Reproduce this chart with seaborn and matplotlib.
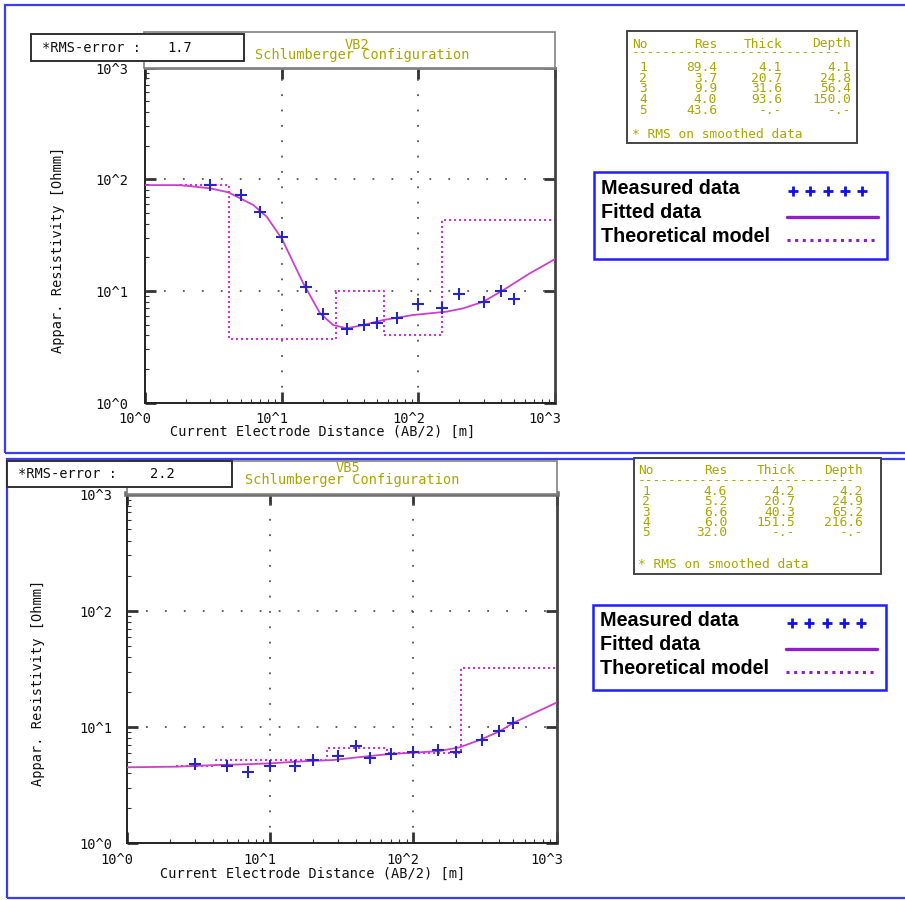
import matplotlib
matplotlib.use("Agg")
import matplotlib.pyplot as plt
import seaborn as sns
from matplotlib.patches import Rectangle
from matplotlib.lines import Line2D

# ---------------------------------------------------------------- data
decade_values = [1, 10, 100, 1000]
decade_labels = ["10^0", "10^1", "10^2", "10^3"]

# VB2 sounding
vb2_name = "VB2"
vb2_rms = 1.7
vb2_ab2 = [3, 5, 7, 10, 15, 20, 30, 40, 50, 70, 100, 150, 200, 300, 400, 500]
vb2_rho = [88.9, 72.8, 51.0, 30.3, 10.9, 6.27, 4.57, 4.99, 5.17, 5.77,
           7.65, 7.00, 9.40, 7.92, 10.1, 8.43]
vb2_fit_ab2 = [1, 1.8, 3.0, 4.07, 6.2, 7.77, 10.0, 14.4, 19.1, 23.8, 29.9,
               39.5, 55.4, 91.8, 161, 213, 299, 419, 655, 1000]
vb2_fit_rho = [88.7, 88.7, 83.0, 76.5, 58.9, 46.3, 29.6, 11.7, 6.31, 4.96,
               4.63, 4.96, 5.50, 6.10, 6.53, 7.00, 8.02, 10.2, 14.4, 19.3]
vb2_res = [89.4, 3.7, 9.9, 4.0, 43.6]
vb2_thick = [4.1, 20.7, 31.6, 93.6]
vb2_depth = [4.1, 24.8, 56.4, 150.0]
vb2_model_start = 1.8

# VB5 sounding
vb5_name = "VB5"
vb5_rms = 2.2
vb5_ab2 = [3, 5, 7, 10, 15, 20, 30, 40, 50, 70, 100, 150, 200, 300, 400, 500]
vb5_rho = [4.78, 4.65, 4.13, 4.65, 4.65, 5.20, 5.67, 6.87, 5.41, 5.86,
           6.10, 6.34, 6.13, 7.73, 9.30, 10.9]
vb5_fit_ab2 = [1, 2.24, 4.25, 6.88, 10.0, 17.1, 27.6, 44.7, 68.5, 99.7,
               153, 211, 291, 401, 496, 700, 1000]
vb5_fit_rho = [4.50, 4.56, 4.71, 4.78, 4.87, 5.07, 5.20, 5.55, 5.86, 6.01,
               6.22, 6.69, 7.73, 9.18, 10.8, 13.2, 16.2]
vb5_res = [4.6, 5.2, 6.6, 6.0, 32.0]
vb5_thick = [4.2, 20.7, 40.3, 151.5]
vb5_depth = [4.2, 24.9, 65.2, 216.6]
vb5_model_start = 2.2

x_max = 1000

# ---------------------------------------------------------------- style
W, H = 905, 900
MONO = "DejaVu Sans Mono"
BOLD = "Liberation Sans"
OLIVE = "#aaa600"
MEAS_C = "#2626c8"
FIT_C = "#cc40cc"
MODEL_C = "#cc33dd"
LEG_LINE_C = "#8e1ec8"
FRAME_C = "#3c3cf5"
FS = 9.8

sns.set_theme(style="white")
plt.rcParams["font.family"] = [MONO]

fig = plt.figure(figsize=(W / 100, H / 100), dpi=100)
fig.patch.set_facecolor("white")


def fx(x):
    return x / W


def fy(y):
    return 1 - y / H


def frect(x0, y0, x1, y1, **kw):
    r = Rectangle((fx(x0), fy(y1)), (x1 - x0) / W, (y1 - y0) / H,
                  transform=fig.transFigure, **kw)
    fig.add_artist(r)
    return r


def ftext(x, y, s, **kw):
    kw.setdefault("va", "center")
    kw.setdefault("fontsize", FS)
    kw.setdefault("family", MONO)
    return fig.text(fx(x), fy(y), s, **kw)


def draw_panel(name, rms, ab2, rho, fit_ab2, fit_rho, res, thick, depth,
               model_start, L):
    # outer blue frame
    frect(*L["frame"], fill=False, edgecolor=FRAME_C, lw=1.6, zorder=0)

    # title box and rms box
    frect(*L["title_box"], facecolor="white", edgecolor="#808080", lw=1.2,
          zorder=1)
    frect(*L["rms_box"], facecolor="white", edgecolor="#303030", lw=1.4,
          zorder=2)
    ftext(L["rms_x"], L["rms_y"], "*RMS-error :", color="#111", zorder=3)
    ftext(L["rms_val_x"], L["rms_y"], f"{rms:.1f}", ha="right", color="#111",
          zorder=3)
    ftext(L["name_x"], L["name_y"], name, ha="center", color=OLIVE, zorder=3)
    ftext(L["conf_x"], L["conf_y"], "Schlumberger Configuration",
          ha="center", color=OLIVE, zorder=3)

    # axes
    x0, t, x1, b = L["axes"]
    ax = fig.add_axes([fx(x0), fy(b), (x1 - x0) / W, (b - t) / H])
    ax.set_facecolor("white")
    ax.set_xscale("log")
    ax.set_yscale("log")
    ax.set_xlim(1, 1000)
    ax.set_ylim(1, 1000)

    # dotted decade grid
    for v in (10, 100):
        ax.axvline(v, color="#555555", lw=1.3, ls=(0, (1, 7.5)), zorder=1)
        ax.axhline(v, color="#555555", lw=1.3, ls=(0, (1, 9.5)), zorder=1)

    # theoretical layered model (step)
    mx = [model_start] + list(depth) + [x_max]
    my = list(res) + [res[-1]]
    sns.lineplot(x=mx, y=my, ax=ax, color=MODEL_C, lw=1.5,
                 ls=(0, (1, 1.4)), drawstyle="steps-post",
                 estimator=None, sort=False, zorder=2)
    # fitted curve
    sns.lineplot(x=fit_ab2, y=fit_rho, ax=ax, color=FIT_C, lw=1.3,
                 estimator=None, sort=False, zorder=3)
    # measured data
    sns.scatterplot(x=ab2, y=rho, ax=ax, marker="+", s=78, color=MEAS_C,
                    linewidth=1.5, zorder=4)

    ax.set_xlim(1, 1000)
    ax.set_ylim(1, 1000)
    ax.set_xlabel("")
    ax.set_ylabel("")

    ax.tick_params(which="major", direction="in", length=8, width=2,
                   color="#333333", top=True, right=True, bottom=True,
                   left=True)
    ax.tick_params(which="minor", direction="in", length=2.6, width=0.8,
                   color="#333333", top=False, right=False, bottom=True,
                   left=True)
    ax.tick_params(which="both", labelleft=False, labelbottom=False)

    for side in ("left", "bottom"):
        ax.spines[side].set(color="#222222", lw=1.4)
    ax.spines["top"].set(color=L["top_spine_c"], lw=L["top_spine_w"])
    ax.spines["right"].set(color="#444444", lw=2.0)

    for v, lab in zip(decade_values, decade_labels):
        ax.annotate(lab, xy=(v, 0), xycoords=("data", "axes fraction"),
                    xytext=(L["xlab_dx"], -L["xlab_dy"]),
                    textcoords="offset pixels", ha="center", va="center",
                    fontsize=FS, family=MONO, color="#111",
                    annotation_clip=False)
        ax.annotate(lab, xy=(0, v), xycoords=("axes fraction", "data"),
                    xytext=(-L["ylab_gap"], -2), textcoords="offset pixels",
                    ha="right", va="center", fontsize=FS, family=MONO,
                    color="#111", annotation_clip=False)

    ftext(L["xtitle_x"], L["xtitle_y"],
          "Current Electrode Distance (AB/2) [m]", ha="center", color="#111")
    ftext(L["ytitle_x"], L["ytitle_y"], "Appar. Resistivity [Ohmm]",
          ha="center", rotation=90, color="#111")

    # layer table
    frect(*L["table_box"], facecolor="white", edgecolor="#444444", lw=1.4,
          zorder=1)
    tc = L["table_cols"]
    ty = L["table_rows"]
    tfs = 9.3
    ftext(tc[0], L["table_head"], "No", ha="left", color=OLIVE, fontsize=tfs)
    ftext(tc[1], L["table_head"], "Res", ha="right", color=OLIVE,
          fontsize=tfs)
    ftext(tc[2], L["table_head"], "Thick", ha="right", color=OLIVE,
          fontsize=tfs)
    ftext(tc[3], L["table_head"], "Depth", ha="right", color=OLIVE,
          fontsize=tfs)
    ftext(tc[0], L["table_dash"], "-" * L["n_dash"], ha="left", color=OLIVE,
          fontsize=tfs)
    for i, r in enumerate(res):
        th = f"{thick[i]:.1f}" if i < len(thick) else "-.-"
        de = f"{depth[i]:.1f}" if i < len(depth) else "-.-"
        ftext(L["no_x"], ty[i], str(i + 1), ha="center", color=OLIVE,
              fontsize=tfs)
        ftext(tc[1], ty[i], f"{r:.1f}", ha="right", color=OLIVE,
              fontsize=tfs)
        ftext(tc[2], ty[i], th, ha="right", color=OLIVE, fontsize=tfs)
        ftext(tc[3], ty[i], de, ha="right", color=OLIVE, fontsize=tfs)
    ftext(tc[0], L["table_note"], "* RMS on smoothed data", ha="left",
          color=OLIVE, fontsize=tfs)

    # legend
    lx0, ly0, lx1, ly1 = L["legend_box"]
    frect(lx0, ly0, lx1, ly1, facecolor="white", edgecolor="#1f1fff", lw=1.8,
          zorder=1)
    rows = [ly0 + 16, ly0 + 40, ly0 + 64]
    for yy, lab in zip(rows, ["Measured data", "Fitted data",
                              "Theoretical model"]):
        ftext(lx0 + 7, yy, lab, ha="left", family=BOLD, fontweight="bold",
              fontsize=14.2, color="black")
    sx0, sx1 = lx0 + 193, lx1 - 9
    n = 5
    px = [sx0 + 6 + k * (sx1 - sx0 - 22) / (n - 1) for k in range(n)]
    fig.add_artist(Line2D([fx(p) for p in px], [fy(rows[0] + 2)] * n,
                          transform=fig.transFigure, ls="none", marker="+",
                          ms=7.5, mew=2.0, color="#1010ee"))
    fig.add_artist(Line2D([fx(sx0), fx(sx1)], [fy(rows[1] + 4)] * 2,
                          transform=fig.transFigure, color=LEG_LINE_C,
                          lw=2.4))
    fig.add_artist(Line2D([fx(sx0), fx(sx1)], [fy(rows[2] + 3)] * 2,
                          transform=fig.transFigure, color=LEG_LINE_C,
                          lw=2.2, ls=(0, (1, 1.5))))
    return ax


top_layout = dict(
    frame=(5, 5, 915, 453), axes=(145, 67.6, 555, 402.7),
    title_box=(144, 32, 555, 67.6), rms_box=(31, 34, 244, 61),
    rms_x=42, rms_y=47.5, rms_val_x=192, name_x=357, name_y=45,
    conf_x=362, conf_y=54.5, top_spine_c="#808080", top_spine_w=2.0,
    xlab_dx=-10, xlab_dy=16, ylab_gap=17,
    xtitle_x=323, xtitle_y=432, ytitle_x=58, ytitle_y=250,
    table_box=(627, 31, 857, 143), table_cols=(632, 717, 782, 851),
    no_x=643, table_head=44, table_dash=53,
    table_rows=(67.3, 78, 89, 99.7, 111), table_note=134.5, n_dash=27,
    legend_box=(594, 172.5, 887, 258.5),
)

bottom_layout = dict(
    frame=(6.5, 458.5, 915, 898), axes=(126.5, 494.4, 556.5, 843.3),
    title_box=(127, 460.7, 556.5, 494.4), rms_box=(7, 461, 232, 487),
    rms_x=18, rms_y=474, rms_val_x=175, name_x=348, name_y=467.5,
    conf_x=352, conf_y=480, top_spine_c="#707070", top_spine_w=4.0,
    xlab_dx=-10, xlab_dy=17, ylab_gap=14,
    xtitle_x=313, xtitle_y=874, ytitle_x=38, ytitle_y=683,
    table_box=(634, 458, 881, 574), table_cols=(638, 727, 795, 863),
    no_x=646, table_head=470, table_dash=481,
    table_rows=(491.5, 501.5, 512, 522.5, 533), table_note=564, n_dash=28,
    legend_box=(593, 605, 886, 690),
)

draw_panel(vb2_name, vb2_rms, vb2_ab2, vb2_rho, vb2_fit_ab2, vb2_fit_rho,
           vb2_res, vb2_thick, vb2_depth, vb2_model_start, top_layout)
draw_panel(vb5_name, vb5_rms, vb5_ab2, vb5_rho, vb5_fit_ab2, vb5_fit_rho,
           vb5_res, vb5_thick, vb5_depth, vb5_model_start, bottom_layout)

fig.savefig("out.png", dpi=100, facecolor="white")
